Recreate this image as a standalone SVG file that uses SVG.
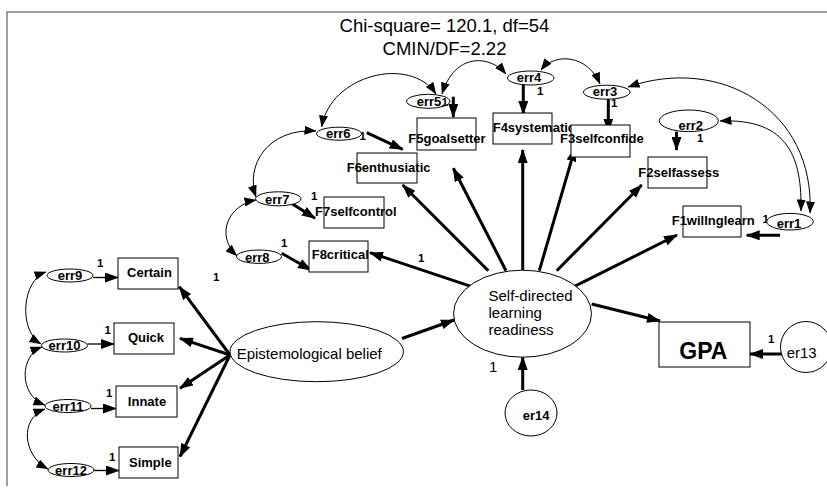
<svg xmlns="http://www.w3.org/2000/svg" width="827" height="488" viewBox="0 0 827 488">
<defs>
<style>
text{font-family:"Liberation Sans",Arial,sans-serif;fill:#000}
.b{font-weight:bold;font-size:13px}
.w{font-weight:bold;font-size:11.5px}
.n{font-size:15px}
.t{font-size:18.5px}
.box{fill:#fff;stroke:#000;stroke-width:1}
.ov{fill:#fff;stroke:#000;stroke-width:1}
.th{fill:none;stroke:#000;stroke-width:3;marker-end:url(#ah)}
.tn{fill:none;stroke:#000;stroke-width:1.3;marker-end:url(#ah)}
.cv{fill:none;stroke:#000;stroke-width:1;marker-start:url(#ac);marker-end:url(#ac)}
</style>
<marker id="ah" markerUnits="userSpaceOnUse" markerWidth="14" markerHeight="10" viewBox="0 0 14 10" refX="13" refY="5" orient="auto"><path d="M0,0 L14,5 L0,10 z" fill="#000"/></marker>
<marker id="ac" markerUnits="userSpaceOnUse" markerWidth="12" markerHeight="9" viewBox="0 0 12 9" refX="11.5" refY="4.5" orient="auto-start-reverse"><path d="M0,0 L12,4.5 L0,9 z" fill="#000"/></marker>
</defs>
<rect width="827" height="488" fill="#fff"/>
<path d="M7,486 L7,12 L827,12" fill="none" stroke="#808080" stroke-width="1.5"/>
<g id="title">
<text class="t" x="444.5" y="31.5" text-anchor="middle">Chi-square= 120.1, df=54</text>
<text class="t" x="444.5" y="54.5" text-anchor="middle">CMIN/DF=2.22</text>
</g>
<g id="connectors">
<path class="th" d="M230,355 L179.3,286.7"/>
<path class="th" d="M230,355 L180,338.3"/>
<path class="th" d="M230,355 L180,388.3"/>
<path class="th" d="M230,355 L180,456.7"/>
<path class="th" d="M402,338.5 L454,320"/>
<path class="th" d="M471.7,286.7 L370,252.7"/>
<path class="th" d="M488.3,270.7 L402.7,185"/>
<path class="th" d="M506,270.7 L453.3,168.3"/>
<path class="th" d="M522.7,270 L522.7,150"/>
<path class="th" d="M539.3,270.7 L575,148.3"/>
<path class="th" d="M556.7,270.7 L641.7,185"/>
<path class="th" d="M574,286.7 L677,235"/>
<path class="th" d="M591.7,304 L660,321"/>
<path class="th" d="M522.7,390 L522.7,357"/>
<path class="th" d="M786,354 L750,354"/>
<path class="th" d="M366.7,132.7 L402.7,149.3"/>
<path class="th" d="M285,199.3 L315,218.3"/>
<path class="th" d="M281.7,253.3 L311,270"/>
<path class="th" d="M453.3,96.7 L453.3,117"/>
<path class="th" d="M523.3,80 L523.3,114"/>
<path class="th" d="M608.3,96.7 L608.3,131.7"/>
<path class="th" d="M676.5,131.7 L676.5,150"/>
<path class="th" d="M780,235.3 L746.7,235.3"/>
<path class="tn" d="M93,277.5 L118,277.5"/>
<path class="tn" d="M87.5,344 L114,344"/>
<path class="tn" d="M91,408.5 L116,408.5"/>
<path class="tn" d="M94,470.5 L119,470.5"/>
<path class="cv" d="M46,272 C22,280 18,330 41,344"/>
<path class="cv" d="M42,347 C20,355 18,395 45,405"/>
<path class="cv" d="M45,409 C20,418 22,455 48,469"/>
<path class="cv" d="M316,131 C268,128 245,165 256,197"/>
<path class="cv" d="M256,200 C228,205 215,235 237,256"/>
<path class="cv" d="M321.7,127 C330,75 410,55 436,94"/>
<path class="cv" d="M506,74 C490,55 455,52 442,94"/>
<path class="cv" d="M541,70 C555,52 588,55 600,84"/>
<path class="cv" d="M628,87 C720,55 815,110 810,213"/>
<path class="cv" d="M720,121 C790,118 802,160 801,211"/>
</g>
<g id="err9"><ellipse class="ov" cx="70" cy="275.5" rx="23" ry="6.5"/><text class="b" x="70" y="280" text-anchor="middle">err9</text></g>
<g id="err10"><ellipse class="ov" cx="64.5" cy="345.5" rx="23" ry="6.5"/><text class="b" x="64.5" y="350" text-anchor="middle">err10</text></g>
<g id="err11"><ellipse class="ov" cx="68" cy="406" rx="23" ry="6.5"/><text class="b" x="68" y="410.5" text-anchor="middle">err11</text></g>
<g id="err12"><ellipse class="ov" cx="71" cy="470" rx="23" ry="6.5"/><text class="b" x="71" y="474.5" text-anchor="middle">err12</text></g>
<g id="Certain"><rect class="box" x="118" y="258" width="60" height="31"/><text class="b" x="149.5" y="276.7" text-anchor="middle">Certain</text></g>
<g id="Quick"><rect class="box" x="114" y="323" width="60" height="31"/><text class="b" x="146" y="341.7" text-anchor="middle">Quick</text></g>
<g id="Innate"><rect class="box" x="116" y="386" width="61" height="31"/><text class="b" x="147" y="406" text-anchor="middle">Innate</text></g>
<g id="Simple"><rect class="box" x="119" y="447" width="59" height="31"/><text class="b" x="150.3" y="466.7" text-anchor="middle">Simple</text></g>
<g id="weights">
<text class="w" x="97" y="267">1</text>
<text class="w" x="104.5" y="334">1</text>
<text class="w" x="106" y="396.7">1</text>
<text class="w" x="109" y="461">1</text>
<text class="w" x="213" y="281">1</text>
<text class="w" x="359.5" y="139.5">1</text>
<text class="w" x="311" y="200">1</text>
<text class="w" x="281" y="247.3">1</text>
<text class="w" x="418" y="262">1</text>
<text class="w" x="537" y="95">1</text>
<text class="w" x="611" y="107.3">1</text>
<text class="w" x="697" y="142">1</text>
<text class="w" x="762.5" y="222.7">1</text>
<text class="w" x="768" y="343.3">1</text>
<text class="n" x="489" y="372">1</text>
</g>
<g id="Epistemological"><ellipse class="ov" cx="316.7" cy="351.7" rx="86.7" ry="30"/><text class="n" x="236.7" y="359.3">Epistemological belief</text></g>
<g id="SDLR"><ellipse class="ov" cx="522.5" cy="313.7" rx="69" ry="43.5"/><text class="n" x="488.5" y="301">Self-directed</text><text class="n" x="488.5" y="318.3">learning</text><text class="n" x="488.5" y="335">readiness</text></g>
<g id="er14"><ellipse class="ov" cx="531" cy="413" rx="26" ry="23"/><text class="b" x="522.7" y="420">er14</text></g>
<g id="GPA"><rect class="box" x="659" y="322" width="91" height="45"/><text x="679.3" y="359.3" font-size="23" font-weight="bold">GPA</text></g>
<g id="er13"><circle class="ov" cx="806" cy="347" r="25.5" fill="none"/><text class="n" x="786.7" y="358.3">er13</text></g>
<g id="err6"><ellipse class="ov" cx="339" cy="133.7" rx="22.5" ry="6.5"/><text class="b" x="326" y="137.5">err6</text></g>
<g id="F6"><rect class="box" x="357" y="153" width="60" height="30"/><text class="b" x="346.7" y="171.7">F6enthusiatic</text></g>
<g id="err7"><ellipse class="ov" cx="278.3" cy="198.8" rx="22.7" ry="7"/><text class="b" x="265" y="204">err7</text></g>
<g id="F7"><rect class="box" x="324" y="197" width="60" height="31"/><text class="b" x="315" y="216">F7selfcontrol</text></g>
<g id="err8"><ellipse class="ov" cx="259" cy="256.7" rx="22.5" ry="6.7"/><text class="b" x="245" y="261.5">err8</text></g>
<g id="F8"><rect class="box" x="309" y="241" width="59" height="31"/><text class="b" x="311.7" y="259.3">F8critical</text></g>
<g id="err5"><ellipse class="ov" cx="428.3" cy="101.3" rx="21.7" ry="7"/><text class="b" x="416.7" y="106">err5</text><text class="w" x="441.5" y="106">1</text></g>
<g id="F5"><rect class="box" x="417" y="118" width="59" height="32"/><text class="b" x="408.3" y="143.3">F5goalsetter</text></g>
<g id="err4"><ellipse class="ov" cx="530.7" cy="78" rx="23.3" ry="7"/><text class="b" x="516.7" y="82">err4</text></g>
<g id="F4"><rect class="box" x="493" y="113" width="59" height="31"/><text class="b" x="492.7" y="131.7">F4systematic</text></g>
<g id="err3"><ellipse class="ov" cx="606.7" cy="92.2" rx="23.3" ry="7"/><text class="b" x="592.7" y="95.5">err3</text></g>
<g id="F3"><rect class="box" x="571" y="125" width="59" height="32"/><text class="b" x="560" y="143.3">F3selfconfide</text></g>
<g id="err2"><ellipse class="ov" cx="688.8" cy="120.8" rx="29.5" ry="10.8"/><text class="b" x="678.5" y="130">err2</text></g>
<g id="F2"><rect class="box" x="648" y="157" width="59" height="31"/><text class="b" x="638.3" y="176.7">F2selfassess</text></g>
<g id="err1"><ellipse class="ov" cx="790" cy="221.7" rx="23.3" ry="8.3"/><text class="b" x="776.7" y="228.3">err1</text></g>
<g id="F1"><rect class="box" x="683" y="206" width="58" height="31"/><text class="b" x="671.7" y="225">F1willnglearn</text></g>
</svg>
